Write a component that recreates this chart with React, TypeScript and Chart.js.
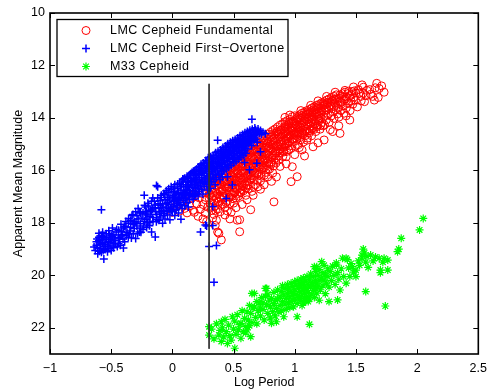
import { useEffect, useRef } from 'react';
import { Chart, registerables } from 'chart.js';

Chart.register(...registerables);

const xTicks = [-1, -0.5, 0, 0.5, 1, 1.5, 2, 2.5];
const yTicks = [10, 12, 14, 16, 18, 20, 22];
const xRange = [-1, 2.5];
const yRange = [10, 23];
const xTitle = 'Log Period';
const yTitle = 'Apparent Mean Magnitude';
const seriesNames = ['LMC Cepheid Fundamental', 'LMC Cepheid First\u2212Overtone', 'M33 Cepheid'];
const refLineX = [0.3, 0.3];
const refLineY = [12.7, 22.8];

// [log period, apparent mean magnitude]
const fundamental: [number, number][] = [
  [0.00,17.60],[0.03,17.35],[0.06,17.55],[0.08,17.20],[0.10,17.45],
  [0.11,17.10],[0.12,17.62],[0.13,16.90],[0.14,17.35],[0.16,17.05],[0.17,17.52],[0.18,17.60],[0.19,16.95],
  [0.20,17.28],[0.21,16.70],[0.21,17.75],[0.22,17.05],[0.23,16.55],[0.23,17.48],[0.24,16.88],[0.25,17.30],[0.25,17.85],[0.26,16.62],[0.27,17.12],[0.27,17.62],[0.28,16.82],[0.29,17.40],[0.30,16.50],[0.30,17.05],
  [0.31,16.30],[0.31,16.75],[0.31,17.25],[0.32,16.55],[0.32,17.02],[0.32,17.52],[0.33,16.20],[0.33,16.85],[0.34,16.45],[0.34,17.15],[0.34,17.68],[0.35,16.32],[0.35,16.72],[0.35,17.35],[0.36,16.15],[0.36,16.60],[0.36,17.05],[0.37,16.42],[0.37,16.90],[0.37,17.48],[0.38,16.08],[0.38,16.70],[0.38,17.22],[0.39,16.35],[0.39,16.80],[0.39,17.58],[0.40,16.00],[0.40,16.55],[0.40,17.10],
  [0.35,18.10],[0.37,18.35],[0.40,18.65],[0.38,18.40],[0.36,17.90],
  [0.41,16.28],[0.41,16.72],[0.41,17.28],[0.42,15.92],[0.42,16.45],[0.42,16.98],[0.43,16.15],[0.43,16.62],[0.43,17.40],[0.44,15.85],[0.44,16.35],[0.44,16.88],[0.45,16.05],[0.45,16.52],[0.45,17.18],[0.46,15.78],[0.46,16.25],[0.46,16.78],[0.47,15.98],[0.47,16.45],[0.47,17.02],[0.48,15.70],[0.48,16.18],[0.48,16.62],[0.48,17.60],[0.49,15.90],[0.49,16.38],[0.49,16.92],[0.50,15.62],[0.50,16.10],[0.50,16.55],[0.50,17.25],
  [0.45,17.55],[0.47,17.85],
  [0.51,15.85],[0.51,16.32],[0.51,16.85],[0.52,15.55],[0.52,16.02],[0.52,16.50],[0.52,17.05],[0.53,15.78],[0.53,16.25],[0.53,16.72],[0.53,17.90],[0.54,15.48],[0.54,15.95],[0.54,16.42],[0.54,16.98],[0.55,15.70],[0.55,16.18],[0.55,16.65],[0.55,18.34],[0.56,15.42],[0.56,15.88],[0.56,16.35],[0.56,16.85],[0.57,15.62],[0.57,16.10],[0.57,16.58],[0.58,15.35],[0.58,15.82],[0.58,16.28],[0.58,16.78],[0.59,15.55],[0.59,16.02],[0.59,16.50],[0.60,15.28],[0.60,15.75],[0.60,16.22],[0.60,16.95],
  [0.55,17.88],[0.57,17.30],
  [0.61,15.48],[0.61,15.95],[0.61,16.42],[0.62,15.20],[0.62,15.68],[0.62,16.15],[0.62,16.70],[0.63,15.40],[0.63,15.88],[0.63,16.35],[0.64,15.12],[0.64,15.60],[0.64,16.08],[0.64,17.50],[0.65,15.32],[0.65,15.80],[0.65,16.28],[0.65,16.80],[0.66,15.05],[0.66,15.52],[0.66,16.00],[0.67,15.25],[0.67,15.72],[0.67,16.20],[0.68,14.98],[0.68,15.45],[0.68,15.92],[0.68,16.55],[0.69,15.18],[0.69,15.65],[0.69,16.12],[0.70,14.92],[0.70,15.38],[0.70,15.85],
  [0.66,16.95],[0.70,16.62],
  [0.71,15.10],[0.71,15.58],[0.71,16.05],[0.72,14.85],[0.72,15.30],[0.72,15.78],[0.72,16.40],[0.73,15.02],[0.73,15.50],[0.73,15.98],[0.74,14.78],[0.74,15.22],[0.74,15.70],[0.75,14.95],[0.75,15.42],[0.75,15.90],[0.75,16.55],[0.76,14.70],[0.76,15.15],[0.76,15.62],[0.77,14.88],[0.77,15.35],[0.77,15.82],[0.78,14.62],[0.78,15.08],[0.78,15.55],[0.78,16.25],[0.79,14.80],[0.79,15.28],[0.79,15.75],[0.80,14.55],[0.80,15.00],[0.80,15.48],
  [0.81,14.72],[0.81,15.20],[0.81,15.68],[0.82,14.48],[0.82,14.95],[0.82,15.42],[0.82,16.10],[0.83,14.65],[0.83,15.12],[0.83,15.60],[0.83,17.20],[0.84,14.42],[0.84,14.88],[0.84,15.35],[0.85,14.58],[0.85,15.05],[0.85,15.52],[0.85,16.25],[0.86,14.35],[0.86,14.80],[0.86,15.28],[0.87,14.52],[0.87,14.98],[0.87,15.45],[0.88,14.28],[0.88,14.72],[0.88,15.20],[0.88,15.85],[0.89,14.45],[0.89,14.92],[0.90,14.22],[0.90,14.65],[0.90,15.12],
  [0.91,14.40],[0.91,14.85],[0.91,15.30],[0.92,14.15],[0.92,14.58],[0.92,15.05],[0.93,14.35],[0.93,14.78],[0.93,15.48],[0.94,14.10],[0.94,14.52],[0.94,14.98],[0.95,14.28],[0.95,14.72],[0.95,15.22],[0.96,13.89],[0.96,14.05],[0.96,14.45],[0.96,14.90],[0.97,14.22],[0.97,14.65],[0.97,16.43],[0.98,13.95],[0.98,14.38],[0.98,14.82],[0.98,15.86],[0.99,14.15],[0.99,14.58],[1.00,13.92],[1.00,14.32],[1.00,14.75],[1.00,15.40],
  [1.01,14.10],[1.01,14.52],[1.02,14.02],[1.02,14.28],[1.02,14.70],[1.02,16.24],[1.03,14.05],[1.03,14.45],[1.03,15.02],[1.04,13.88],[1.04,14.22],[1.04,14.62],[1.05,14.00],[1.05,14.40],[1.06,13.82],[1.06,14.18],[1.06,14.58],[1.06,15.22],[1.07,13.95],[1.07,14.35],[1.08,13.78],[1.08,14.12],[1.08,14.52],[1.09,13.90],[1.09,14.30],[1.10,13.72],[1.10,14.08],[1.10,14.85],
  [1.11,13.85],[1.11,14.25],[1.12,13.68],[1.12,14.02],[1.12,14.48],[1.13,13.80],[1.13,14.20],[1.14,13.62],[1.14,13.98],[1.14,14.42],[1.15,13.75],[1.15,14.15],[1.15,15.10],[1.16,13.58],[1.16,13.92],[1.17,13.70],[1.17,14.10],[1.18,13.52],[1.18,13.88],[1.19,13.65],[1.19,14.05],[1.20,13.48],[1.20,13.82],
  [1.21,13.62],[1.21,14.00],[1.22,13.42],[1.22,13.78],[1.23,13.55],[1.23,14.30],[1.24,13.38],[1.24,13.72],[1.24,14.84],[1.25,13.50],[1.25,13.90],[1.26,13.32],[1.26,13.68],[1.27,13.45],[1.28,13.28],[1.28,13.62],[1.29,13.40],[1.30,13.22],[1.30,13.58],
  [1.31,13.35],[1.32,13.18],[1.32,13.55],[1.33,13.30],[1.34,13.12],[1.35,13.48],[1.35,13.85],[1.36,13.25],[1.37,13.13],[1.37,14.59],[1.38,13.40],[1.39,13.08],[1.40,13.30],
  [1.41,13.02],[1.42,13.20],[1.43,13.45],[1.44,12.98],[1.45,14.08],[1.45,13.15],[1.46,13.35],[1.47,13.00],[1.48,13.22],[1.50,13.05],
  [1.52,12.92],[1.54,13.18],[1.55,12.74],[1.56,13.05],[1.57,13.38],[1.59,12.95],
  [1.62,13.10],[1.65,13.32],[1.67,12.68],[1.69,12.88],[1.71,12.78],[1.73,13.02],
  [0.305,16.93],[0.318,17.41],[0.327,16.48],[0.342,16.97],[0.353,17.52],[0.361,16.38],[0.374,17.18],[0.386,16.52],[0.393,17.33],[0.404,16.77],[0.412,16.12],[0.419,17.05],[0.428,16.43],[0.436,17.22],[0.447,16.67],[0.452,15.98],[0.461,17.01],[0.468,16.32],[0.476,16.84],[0.483,15.88],[0.491,16.58],[0.497,17.08],
  [0.503,16.27],[0.512,16.66],[0.518,15.73],[0.526,16.91],[0.534,16.12],[0.541,16.57],[0.547,15.62],[0.553,16.84],[0.562,16.03],[0.566,16.47],[0.573,15.85],[0.581,16.62],[0.587,15.48],[0.594,16.27],[0.602,16.68],[0.607,15.67],[0.614,16.18],[0.621,15.43],[0.628,16.55],[0.634,15.92],[0.642,16.34],[0.647,15.27],[0.655,16.02],[0.661,16.61],[0.668,15.58],[0.674,16.08],[0.682,15.22],[0.687,15.83],[0.693,16.38],
  [0.702,15.47],[0.708,16.18],[0.715,15.03],[0.721,15.69],[0.727,16.22],[0.734,15.32],[0.741,15.88],[0.748,14.87],[0.753,15.57],[0.762,16.08],[0.768,15.12],[0.774,15.72],[0.781,14.93],[0.788,15.43],[0.794,15.95],[0.803,15.18],[0.809,14.63],[0.815,15.52],[0.822,15.02],[0.828,15.83],[0.834,14.78],[0.841,15.27],[0.847,15.72],[0.853,14.52],[0.862,15.08],[0.868,15.61],[0.874,14.73],[0.881,15.33],[0.887,14.47],[0.893,15.02],
  [0.902,15.47],[0.908,14.62],[0.914,15.12],[0.921,14.33],[0.927,14.87],[0.934,15.28],[0.941,14.43],[0.947,14.97],[0.953,14.18],[0.962,14.68],[0.968,15.17],[0.974,14.37],[0.981,14.92],[0.987,14.12],[0.993,14.62],[1.004,15.08],[1.011,14.27],[1.018,14.81],[1.024,13.98],[1.031,14.57],[1.037,15.13],[1.044,14.38],[1.051,14.83],[1.058,13.92],[1.064,14.47],[1.071,14.92],[1.077,14.12],[1.084,14.68],[1.091,13.85],[1.097,14.42],
  [1.104,14.77],[1.112,13.97],[1.118,14.57],[1.124,13.77],[1.131,14.33],[1.138,14.68],[1.144,13.87],[1.151,14.37],[1.158,13.68],[1.164,14.22],[1.172,14.52],[1.178,13.78],[1.184,14.28],[1.192,13.57],[1.198,14.12],[1.207,14.43],[1.213,13.73],[1.221,14.18],[1.228,13.48],[1.236,13.97],[1.243,14.27],[1.251,13.62],[1.258,14.08],[1.266,13.42],[1.273,13.87],[1.281,14.17],[1.288,13.53],[1.296,13.93],
  [1.304,13.33],[1.312,13.77],[1.321,14.02],[1.328,13.43],[1.336,13.68],[1.344,13.27],[1.352,13.62],[1.361,13.97],[1.368,13.38],[1.377,13.72],[1.386,13.17],[1.394,13.53],[1.403,13.82],[1.412,13.28],[1.421,13.62],[1.432,13.08],[1.441,13.42],[1.452,13.72],[1.463,13.13],[1.474,13.48],[1.486,12.97],[1.497,13.33],[1.512,13.58],[1.528,13.05],[1.543,13.35],[1.561,12.83],[1.583,13.15],[1.612,12.92],[1.637,13.18],[1.658,12.85],[1.682,13.22],
  [0.52,17.42],[0.61,17.12],[0.72,16.72],[0.81,16.42],[0.93,15.75],[1.08,15.45],[1.19,14.95],[1.31,14.52],[0.43,17.70],[0.33,17.82],[0.28,17.95],
  [0.357,16.84],[0.371,16.27],[0.389,17.02],[0.408,16.41],[0.423,16.86],[0.441,16.18],[0.457,16.63],[0.472,17.27],[0.487,16.21],[0.506,16.84],[0.521,16.37],[0.538,15.83],[0.552,16.29],[0.569,16.73],[0.585,16.09],[0.598,15.61],[0.611,16.57],[0.626,15.77],[0.639,16.21],[0.652,15.49],[0.667,16.37],[0.681,15.71],[0.694,15.31],[0.709,15.87],[0.722,15.21],[0.738,15.63],[0.751,16.19],[0.766,15.38],[0.779,15.97],[0.792,15.14],
  [0.807,15.77],[0.819,14.83],[0.836,15.44],[0.849,15.09],[0.863,14.62],[0.877,15.19],[0.891,14.71],[0.906,15.27],[0.918,14.52],[0.932,14.98],[0.946,14.63],[0.959,15.07],[0.973,14.49],[0.986,14.78],[0.998,14.21],[1.013,14.66],[1.027,14.34],[1.042,14.75],[1.056,14.27],[1.069,14.63],[1.083,14.03],[1.098,14.51],[1.113,14.15],[1.127,14.48],[1.141,14.05],[1.156,14.44],[1.169,13.82],[1.183,14.33],[1.197,13.93],[1.212,14.28],
  [0.92,13.98],[1.05,13.72],[1.13,13.52],[1.19,13.35],[1.26,13.18],[1.33,13.02],[1.41,12.95],[1.48,12.82],[1.36,14.30],[1.29,14.45],[1.42,13.92],
];

const firstOvertone: [number, number][] = [
  [-0.62,18.72],[-0.61,18.95],[-0.60,18.55],[-0.63,19.05],[-0.59,18.82],[-0.58,19.12],[-0.57,18.63],[-0.60,18.40],[-0.56,18.90],[-0.62,18.85],[-0.58,18.48],[-0.55,19.02],[-0.61,19.18],[-0.57,18.78],[-0.59,18.98],[-0.56,18.55],[-0.64,18.92],[-0.60,18.68],[-0.57,18.36],[-0.55,18.74],
  [-0.56,19.38],[-0.58,17.50],
  [-0.54,18.62],[-0.53,18.88],[-0.52,18.30],[-0.51,18.75],[-0.50,19.05],[-0.50,18.48],[-0.49,18.20],[-0.48,18.95],[-0.47,18.58],[-0.53,19.10],[-0.52,18.70],[-0.46,18.35],[-0.48,18.80],[-0.54,18.42],[-0.51,18.97],[-0.47,18.68],[-0.49,18.52],[-0.45,18.90],
  [-0.44,18.28],[-0.43,18.62],[-0.42,18.05],[-0.41,18.45],[-0.40,18.96],[-0.40,18.20],[-0.39,18.72],[-0.38,17.95],[-0.37,18.38],[-0.36,18.55],[-0.44,18.80],[-0.42,18.50],[-0.38,18.15],[-0.36,18.02],
  [-0.34,18.18],[-0.33,17.72],[-0.32,18.42],[-0.31,17.95],[-0.30,18.60],[-0.30,17.58],[-0.29,18.12],[-0.28,17.85],[-0.27,18.35],[-0.26,17.62],[-0.34,17.90],[-0.32,18.05],[-0.28,17.45],[-0.26,18.20],
  [-0.24,17.62],[-0.23,17.95],[-0.23,16.95],[-0.22,17.40],[-0.21,18.18],[-0.20,17.70],[-0.20,17.25],[-0.19,17.98],[-0.18,17.52],[-0.17,18.35],[-0.17,17.18],[-0.16,17.80],[-0.15,17.42],[-0.24,18.25],[-0.21,17.58],[-0.16,17.05],
  [-0.14,17.32],[-0.14,18.54],[-0.13,16.58],[-0.13,17.68],[-0.12,17.05],[-0.12,16.62],[-0.11,17.90],[-0.11,17.45],[-0.10,17.15],[-0.10,17.78],[-0.09,16.95],[-0.09,17.58],[-0.08,17.28],[-0.08,18.02],[-0.07,16.88],[-0.07,17.52],[-0.06,17.12],[-0.06,17.85],[-0.05,16.78],[-0.05,17.40],
  [-0.04,17.22],[-0.04,17.70],[-0.03,16.70],[-0.03,17.45],[-0.02,16.98],[-0.02,17.88],[-0.01,17.30],[-0.01,16.62],[0.00,17.58],[0.00,17.05],[0.01,16.80],[0.01,17.38],[0.02,17.72],[0.02,16.55],[0.02,17.15],[0.03,16.92],[0.03,17.50],[0.04,17.25],[0.04,16.68],[0.05,17.62],[0.05,16.85],[0.05,17.08],[-0.02,17.55],[0.01,16.95],[0.04,17.40],
  [0.06,16.48],[0.06,17.02],[0.07,17.86],[0.07,16.75],[0.07,17.30],[0.08,16.40],[0.08,16.92],[0.08,17.45],[0.09,16.62],[0.09,17.15],[0.10,16.30],[0.10,16.85],[0.10,17.35],[0.11,16.55],[0.11,17.05],[0.12,16.22],[0.12,16.72],[0.12,17.22],[0.13,16.45],[0.13,16.95],[0.14,16.18],[0.14,16.65],[0.14,17.12],[0.15,16.38],[0.15,16.88],[0.09,16.35],[0.11,16.78],[0.13,17.40],
  [0.16,16.08],[0.16,16.55],[0.16,17.00],[0.17,16.30],[0.17,16.78],[0.18,16.02],[0.18,16.48],[0.18,16.95],[0.19,16.20],[0.19,16.68],[0.20,15.95],[0.20,16.40],[0.20,16.88],[0.21,16.12],[0.21,16.60],[0.22,15.88],[0.22,16.35],[0.22,16.80],[0.23,16.05],[0.23,16.52],[0.23,18.35],[0.24,15.82],[0.24,16.28],[0.24,16.72],[0.25,16.00],[0.25,16.45],[0.17,17.10],[0.19,16.90],[0.21,16.98],[0.25,16.90],
  [0.26,15.75],[0.26,16.20],[0.26,16.62],[0.27,15.95],[0.27,16.40],[0.27,18.08],[0.28,15.68],[0.28,16.12],[0.28,16.55],[0.28,18.12],[0.29,15.88],[0.29,16.32],[0.29,16.75],[0.30,15.60],[0.30,16.05],[0.30,16.48],[0.30,18.90],[0.31,15.80],[0.31,16.25],[0.31,16.68],[0.32,15.55],[0.32,15.98],[0.32,16.42],[0.33,15.72],[0.33,16.18],[0.33,17.38],[0.33,18.10],[0.34,15.50],[0.34,15.92],[0.34,16.35],[0.34,20.26],[0.35,15.65],[0.35,16.10],[0.35,16.55],
  [0.36,15.42],[0.36,15.85],[0.36,16.28],[0.36,18.86],[0.37,15.58],[0.37,16.02],[0.37,14.85],[0.38,15.35],[0.38,15.75],[0.38,16.18],[0.39,15.50],[0.39,15.92],[0.39,16.35],[0.40,15.28],[0.40,15.68],[0.40,16.10],[0.41,15.45],[0.41,15.85],[0.41,16.25],[0.42,15.20],[0.42,15.62],[0.42,16.02],[0.43,15.38],[0.43,15.78],[0.44,15.15],[0.44,15.55],[0.44,15.95],[0.44,17.07],[0.45,15.32],[0.45,15.72],[0.45,16.24],
  [0.46,15.10],[0.46,15.50],[0.46,15.88],[0.47,15.25],[0.47,15.65],[0.48,15.02],[0.48,15.42],[0.48,15.80],[0.49,15.18],[0.49,15.58],[0.49,16.56],[0.50,14.95],[0.50,15.35],[0.50,15.72],[0.51,15.12],[0.51,15.50],[0.52,14.90],[0.52,15.28],[0.52,15.65],[0.53,15.05],[0.53,15.45],[0.54,14.85],[0.54,15.22],[0.54,15.58],[0.55,15.00],[0.55,15.38],
  [0.56,14.78],[0.56,15.15],[0.56,15.50],[0.57,14.95],[0.57,15.32],[0.58,14.72],[0.58,15.08],[0.58,15.42],[0.59,14.88],[0.59,15.25],[0.59,15.70],[0.60,14.65],[0.60,15.02],[0.60,15.35],[0.61,14.82],[0.61,15.18],[0.62,14.60],[0.62,14.98],[0.63,14.78],[0.63,15.98],[0.64,14.55],[0.64,14.92],[0.65,14.72],[0.65,14.05],
  [0.66,14.50],[0.66,14.88],[0.67,14.68],[0.68,14.45],[0.68,14.82],[0.69,14.62],[0.69,15.73],[0.70,14.42],[0.71,14.58],[0.72,14.48],[0.72,15.29],[0.74,14.55],[0.76,14.60],
  [-0.615,18.62],[-0.598,19.08],[-0.583,18.77],[-0.572,18.52],[-0.566,19.05],[-0.548,18.83],[-0.537,18.55],[-0.525,18.97],[-0.516,18.42],[-0.505,18.63],[-0.493,18.88],[-0.478,18.45],[-0.466,18.78],[-0.455,18.25],[-0.438,18.57],[-0.425,18.85],[-0.414,18.33],[-0.403,18.62],
  [-0.392,18.13],[-0.376,18.47],[-0.358,17.83],[-0.347,18.31],[-0.335,18.58],[-0.322,17.68],[-0.311,18.22],[-0.297,17.97],[-0.284,18.42],[-0.271,17.58],[-0.262,18.03],[-0.248,17.82],[-0.236,18.12],[-0.227,17.33],[-0.214,17.86],[-0.203,18.04],[-0.193,17.36],[-0.182,17.77],[-0.171,17.57],[-0.158,17.94],[-0.147,17.18],[-0.138,17.57],[-0.126,17.86],[-0.117,17.27],[-0.104,17.62],[-0.093,17.03],[-0.086,17.42],[-0.073,17.72],[-0.064,16.93],[-0.052,17.27],[-0.043,17.58],[-0.034,16.83],[-0.026,17.13],[-0.014,17.43],[-0.006,16.72],
  [0.007,17.18],[0.014,16.63],[0.023,17.02],[0.032,17.33],[0.043,16.52],[0.052,16.88],[0.061,17.22],[0.068,16.62],[0.077,16.98],[0.085,16.33],[0.093,16.78],[0.104,17.08],[0.112,16.43],[0.118,16.88],[0.127,16.28],[0.134,16.58],[0.142,16.92],[0.151,16.13],[0.158,16.43],[0.164,16.77],[0.172,16.03],[0.178,16.33],[0.186,16.68],[0.193,15.98],[0.198,16.28],[0.206,16.58],[0.213,15.87],[0.218,16.17],[0.227,16.47],[0.234,15.77],[0.238,16.13],[0.246,16.42],[0.253,15.72],[0.258,16.03],[0.266,16.33],[0.273,15.62],[0.278,15.93],[0.286,16.23],[0.293,15.52],[0.298,15.83],
  [0.306,16.12],[0.313,15.48],[0.318,15.73],[0.326,16.02],[0.333,15.42],[0.338,15.67],[0.346,15.93],[0.353,15.33],[0.358,15.58],[0.366,15.83],[0.373,15.27],[0.378,15.53],[0.386,15.78],[0.393,15.22],[0.398,15.43],[0.406,15.72],[0.413,15.13],[0.418,15.38],[0.426,15.63],[0.433,15.07],[0.438,15.28],[0.446,15.52],[0.453,14.98],[0.458,15.23],[0.466,15.43],[0.473,14.93],[0.478,15.13],[0.486,15.38],[0.493,14.87],[0.498,15.07],
  [0.506,15.28],[0.513,14.82],[0.518,15.02],[0.526,15.22],[0.533,14.77],[0.538,14.93],[0.546,15.13],[0.553,14.68],[0.558,14.88],[0.566,15.07],[0.573,14.63],[0.578,14.82],[0.586,15.02],[0.593,14.57],[0.598,14.78],[0.606,14.93],[0.613,14.52],[0.618,14.72],[0.626,14.88],[0.633,14.47],[0.638,14.67],[0.646,14.82],[0.653,14.43],[0.662,14.62],[0.674,14.38],[0.686,14.57],[0.703,14.52],[0.726,14.63],
  [-0.352,18.41],[-0.318,18.02],[-0.289,17.73],[-0.257,18.36],[-0.221,17.66],[-0.188,18.11],[-0.163,17.47],[-0.131,17.96],[-0.098,17.33],[-0.067,17.64],[-0.038,17.04],[-0.009,17.52],[0.018,16.86],[0.047,17.12],[0.073,16.55],[0.098,16.96],[0.123,16.61],[0.147,16.31],[0.169,16.64],[0.191,16.37],[0.216,16.71],
  [0.241,16.07],[0.262,16.48],[0.284,15.81],[0.309,16.31],[0.331,15.88],[0.356,16.17],[0.379,15.69],[0.402,15.99],[0.428,15.46],[0.451,15.81],[0.476,15.31],[0.499,15.58],[0.523,15.11],[0.548,15.43],[0.571,14.98],[0.596,15.16],[0.621,14.87],[0.648,15.06],[0.671,14.77],[0.694,14.93],
];

const m33: [number, number][] = [
  [0.30,21.96],[0.30,22.28],[0.32,22.05],[0.34,22.42],[0.36,21.85],[0.38,22.28],[0.39,22.10],[0.40,21.77],[0.40,22.52],
  [0.41,22.00],[0.42,22.35],[0.43,21.68],[0.44,22.15],[0.45,22.60],[0.46,21.90],[0.47,22.30],[0.48,22.47],[0.49,21.58],[0.50,22.05],[0.51,22.78],
  [0.51,21.75],[0.52,22.25],[0.53,21.50],[0.54,22.08],[0.55,21.88],[0.56,21.83],[0.56,22.40],[0.57,21.35],[0.58,22.15],[0.59,21.64],[0.60,21.95],[0.60,22.20],
  [0.61,21.39],[0.61,22.08],[0.62,21.70],[0.63,21.15],[0.63,21.92],[0.64,22.34],[0.64,21.45],[0.65,20.69],[0.65,21.80],[0.66,21.25],[0.67,21.20],[0.67,20.69],[0.68,21.60],[0.69,21.00],[0.69,21.85],[0.70,21.35],
  [0.71,21.05],[0.72,21.55],[0.73,20.85],[0.74,21.30],[0.75,21.70],[0.76,20.50],[0.76,20.80],[0.77,21.12],[0.77,20.50],[0.78,21.45],[0.79,20.95],[0.80,21.20],[0.80,21.62],[0.78,20.72],[0.74,21.05],[0.72,21.25],
  [0.81,21.83],[0.81,20.88],[0.82,21.38],[0.83,20.65],[0.83,21.08],[0.84,21.55],[0.85,21.26],[0.85,21.77],[0.86,20.90],[0.86,20.55],[0.87,21.40],[0.88,20.82],[0.88,21.15],[0.89,20.62],[0.89,21.35],[0.90,21.00],[0.90,20.40],[0.84,20.95],
  [0.91,21.58],[0.91,20.75],[0.92,21.10],[0.92,20.50],[0.93,20.88],[0.93,21.30],[0.94,20.35],[0.94,20.68],[0.95,21.05],[0.95,20.48],[0.96,20.80],[0.96,21.22],[0.97,20.30],[0.97,20.62],[0.98,20.95],[0.98,20.42],[0.99,21.20],[0.99,20.70],[1.00,20.25],[1.00,20.55],[1.00,20.90],[0.97,21.00],
  [1.01,20.38],[1.01,20.72],[1.02,21.07],[1.02,21.58],[1.02,20.20],[1.03,20.50],[1.03,20.85],[1.04,20.82],[1.04,20.32],[1.04,20.62],[1.05,20.15],[1.05,20.95],[1.05,20.45],[1.06,20.75],[1.06,20.28],[1.07,20.58],[1.07,21.05],[1.07,20.10],[1.08,20.40],[1.08,20.88],[1.08,20.68],[1.09,20.22],[1.09,20.52],[1.10,20.50],[1.10,20.80],[1.10,20.05],[1.06,21.15],[1.09,20.98],
  [1.11,20.35],[1.11,20.65],[1.12,21.87],[1.11,21.00],[1.12,20.15],[1.12,20.90],[1.13,20.45],[1.13,19.95],[1.14,20.72],[1.14,20.28],[1.15,20.37],[1.15,20.05],[1.15,20.58],[1.16,19.67],[1.16,20.85],[1.17,20.20],[1.17,19.85],[1.17,20.50],[1.18,19.67],[1.18,20.30],[1.18,20.68],[1.19,20.00],[1.19,20.42],[1.20,19.78],[1.20,20.20],[1.20,20.95],
  [1.21,20.55],[1.22,19.48],[1.22,20.10],[1.23,19.90],[1.23,20.40],[1.24,20.18],[1.24,19.62],[1.25,20.70],[1.25,19.95],[1.26,20.30],[1.27,19.75],[1.27,20.05],[1.28,21.00],[1.28,20.45],[1.29,19.85],[1.30,20.20],
  [1.31,19.65],[1.32,20.00],[1.33,20.35],[1.34,19.53],[1.34,19.60],[1.35,20.94],[1.35,19.90],[1.36,20.15],[1.37,20.56],[1.38,19.75],[1.39,19.35],[1.40,20.05],
  [1.42,19.35],[1.42,20.30],[1.43,19.40],[1.44,19.72],[1.45,20.05],[1.46,19.55],[1.47,19.67],[1.48,19.88],[1.50,19.80],[1.50,20.05],
  [1.52,19.45],[1.53,19.62],[1.55,19.23],[1.55,19.35],[1.56,19.00],[1.57,19.15],[1.58,19.50],[1.59,19.28],[1.60,19.70],[1.58,20.62],
  [1.62,19.23],[1.64,19.45],[1.66,19.30],[1.69,19.35],[1.70,19.80],[1.70,19.90],[1.72,19.50],[1.73,19.35],[1.76,19.42],[1.76,19.80],[1.74,21.17],
  [1.84,19.10],[1.85,19.00],[1.87,18.59],[2.02,18.27],[2.05,17.83],
];

const FONT = '"Liberation Sans", Arial, Helvetica, sans-serif';
const RED = 'rgb(255,0,0)';
const BLUE = 'rgb(0,0,255)';
const GREEN = 'rgb(0,255,0)';

const fmt = (v: number) => (v < 0 ? '\u2212' + String(Math.abs(v)) : String(v));

function drawMarker(ctx: CanvasRenderingContext2D, kind: number, x: number, y: number) {
  const r = 4;
  ctx.beginPath();
  if (kind === 0) {
    ctx.strokeStyle = RED; ctx.lineWidth = 1;
    ctx.arc(x, y, r, 0, Math.PI * 2);
  } else if (kind === 1) {
    ctx.strokeStyle = BLUE; ctx.lineWidth = 1.5;
    ctx.moveTo(x - r, y); ctx.lineTo(x + r, y);
    ctx.moveTo(x, y - r); ctx.lineTo(x, y + r);
  } else {
    ctx.strokeStyle = GREEN; ctx.lineWidth = 1.2;
    ctx.moveTo(x - r, y); ctx.lineTo(x + r, y);
    ctx.moveTo(x, y - r); ctx.lineTo(x, y + r);
    const d = r * 0.707;
    ctx.moveTo(x - d, y - d); ctx.lineTo(x + d, y + d);
    ctx.moveTo(x - d, y + d); ctx.lineTo(x + d, y - d);
  }
  ctx.stroke();
}

const framePlugin = {
  id: 'matlabFrame',
  afterDraw(chart: any) {
    const { ctx, chartArea: a, scales } = chart;
    ctx.save();
    ctx.strokeStyle = '#000';
    ctx.lineWidth = 1;
    ctx.beginPath();
    xTicks.forEach((v) => {
      const x = Math.round(scales.x.getPixelForValue(v)) + 0.5;
      ctx.moveTo(x, a.bottom); ctx.lineTo(x, a.bottom - 5);
      ctx.moveTo(x, a.top); ctx.lineTo(x, a.top + 5);
    });
    yTicks.forEach((v) => {
      const y = Math.round(scales.y.getPixelForValue(v)) + 0.5;
      ctx.moveTo(a.left, y); ctx.lineTo(a.left + 5, y);
      ctx.moveTo(a.right, y); ctx.lineTo(a.right - 5, y);
    });
    ctx.stroke();
    ctx.lineWidth = 1.6;
    ctx.strokeRect(a.left, a.top, a.right - a.left, a.bottom - a.top);

    const lx = 57, ly = 19.5, lw = 231, lh = 57;
    ctx.fillStyle = '#fff';
    ctx.fillRect(lx, ly, lw, lh);
    ctx.lineWidth = 1.3;
    ctx.strokeStyle = '#000';
    ctx.strokeRect(lx, ly, lw, lh);
    const rows = [30.5, 48.5, 66.5];
    ctx.font = '12.5px ' + FONT;
    (ctx as any).letterSpacing = '0.45px';
    ctx.textBaseline = 'middle';
    ctx.textAlign = 'left';
    seriesNames.forEach((name, i) => {
      drawMarker(ctx, i, 86, rows[i]);
      ctx.fillStyle = '#000';
      ctx.fillText(name, 110, rows[i] + 0.5);
    });
    ctx.restore();
  },
};

export default function App() {
  const ref = useRef<HTMLCanvasElement | null>(null);

  useEffect(() => {
    document.body.style.margin = '0';
    const canvas = ref.current;
    if (!canvas) return;
    const toXY = (arr: [number, number][]) => arr.map(([x, y]) => ({ x, y }));
    const chart = new Chart(canvas, {
      type: 'scatter',
      data: {
        datasets: [
          {
            label: seriesNames[0],
            data: toXY(fundamental),
            pointStyle: 'circle',
            pointRadius: 4,
            borderWidth: 1,
            borderColor: RED,
            backgroundColor: 'rgba(0,0,0,0)',
            order: 3,
          },
          {
            label: seriesNames[1],
            data: toXY(firstOvertone),
            pointStyle: 'cross',
            pointRadius: 4,
            borderWidth: 1.5,
            borderColor: BLUE,
            backgroundColor: BLUE,
            order: 2,
          },
          {
            label: seriesNames[2],
            data: toXY(m33),
            pointStyle: 'star',
            pointRadius: 4,
            borderWidth: 1.2,
            borderColor: GREEN,
            backgroundColor: GREEN,
            order: 1,
          },
          {
            label: 'cut',
            data: refLineX.map((x, i) => ({ x, y: refLineY[i] })),
            showLine: true,
            pointRadius: 0,
            borderColor: '#333',
            borderWidth: 1,
            order: 0,
          } as any,
        ],
      },
      options: {
        responsive: false,
        animation: false,
        devicePixelRatio: 1,
        events: [],
        layout: { padding: { left: 0, right: 10, top: 13, bottom: 0 } },
        plugins: { legend: { display: false }, tooltip: { enabled: false } },
        scales: {
          x: {
            type: 'linear',
            min: xRange[0],
            max: xRange[1],
            afterBuildTicks: (s: any) => { s.ticks = xTicks.map((v) => ({ value: v })); },
            afterFit: (s: any) => { s.height = 37; },
            grid: { display: false, drawTicks: false },
            border: { display: false },
            ticks: { padding: 7, color: '#000', font: { family: FONT, size: 12.5 }, callback: (v: any) => fmt(Number(v)), maxRotation: 0, autoSkip: false },
            title: { display: true, text: xTitle, color: '#000', font: { family: FONT, size: 12.5 }, padding: { top: 0, bottom: 1 } },
          },
          y: {
            type: 'linear',
            reverse: true,
            min: yRange[0],
            max: yRange[1],
            afterBuildTicks: (s: any) => { s.ticks = yTicks.map((v) => ({ value: v })); },
            afterFit: (s: any) => { s.width = 50; },
            grid: { display: false, drawTicks: false },
            border: { display: false },
            ticks: { padding: 5, color: '#000', font: { family: FONT, size: 12.5 }, callback: (v: any) => fmt(Number(v)), autoSkip: false },
            title: { display: true, text: yTitle, color: '#000', font: { family: FONT, size: 12.5 }, padding: { top: 11, bottom: 0 } },
          },
        },
      },
      plugins: [framePlugin],
    });
    return () => chart.destroy();
  }, []);

  return (
    <div style={{ position: 'absolute', left: 0, top: 0, width: 494, height: 391, background: '#fff' }}>
      <canvas ref={ref} width={494} height={391} style={{ display: 'block', width: 494, height: 391 }} />
    </div>
  );
}
